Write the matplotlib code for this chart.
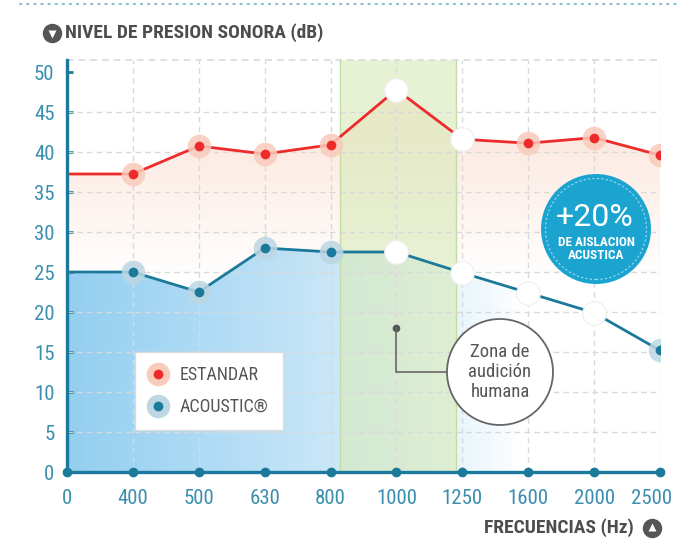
import numpy as np
import matplotlib
matplotlib.use("Agg")
import matplotlib.pyplot as plt
from matplotlib import font_manager
from matplotlib.lines import Line2D
from matplotlib.patches import Circle, Polygon
from matplotlib.transforms import ScaledTranslation
from matplotlib.legend_handler import HandlerTuple

# pick the narrowest sans that is installed
installed = {f.name for f in font_manager.fontManager.ttflist}
narrow = next((n for n in ["Liberation Sans Narrow", "DejaVu Sans Condensed", "Roboto Condensed",
                           "Roboto", "Lato"] if n in installed), "DejaVu Sans")
plt.rcParams["font.family"] = [narrow, "DejaVu Sans"]
plt.rcParams["font.stretch"] = "condensed"

# data
freqs = ["0", "400", "500", "630", "800", "1000", "1250", "1600", "2000", "2500"]
estandar = [37.25, 37.25, 40.75, 39.75, 40.9, 47.8, 41.6, 41.1, 41.8, 39.6]
acoustic = [25.0, 25.0, 22.5, 28.0, 27.5, 27.5, 24.9, 22.4, 19.9, 15.2]
estandar_hidden = [5, 6]          # points drawn as white circles
acoustic_hidden = [5, 6, 7, 8]
yticks = [0, 5, 10, 15, 20, 25, 30, 35, 40, 45, 50]
zona = (4.15, 5.9)                # human hearing band

RED = "#ee2b2b"
RED_HALO = "#f9cbbb"
BLUE = "#1b7a9b"
BLUE_HALO = "#bcd6e3"
TEAL_TXT = "#3b8fae"
GRAY = "#4d4d4d"

W, H = 677, 553
fig = plt.figure(figsize=(W / 100, H / 100), dpi=100)
top_px, bot_px, left_px, right_px = 60, 472, 67, 660
ax = fig.add_axes([left_px / W, 1 - bot_px / H, (right_px - left_px) / W, (bot_px - top_px) / H])
ymax = 51.5
ax.set_xlim(0, 9)
ax.set_ylim(0, ymax)

x = np.arange(len(freqs))

# pink fill under the red line (vertical fade)
grad = np.zeros((200, 2, 4))
ys = np.linspace(ymax, 0, 200)
a = np.clip((ys - 24) / (44 - 24), 0, 1) * 0.6
grad[..., 0], grad[..., 1], grad[..., 2] = 0.98, 0.84, 0.78
grad[..., 3] = a[:, None]
im = ax.imshow(grad, extent=(0, 9, 0, ymax), aspect="auto", zorder=1, interpolation="bilinear")
poly = Polygon([(0, 0)] + list(zip(x, estandar)) + [(9, 0)], closed=True, transform=ax.transData)
im.set_clip_path(poly)

# blue fill under the blue line (horizontal fade)
grad2 = np.zeros((2, 300, 4))
xs = np.linspace(0, 9, 300)
a2 = np.clip(1 - xs / 6.9, 0, 1) ** 0.8 * 0.9
grad2[..., 0], grad2[..., 1], grad2[..., 2] = 0.53, 0.79, 0.94
grad2[..., 3] = a2[None, :]
im2 = ax.imshow(grad2, extent=(0, 9, 0, ymax), aspect="auto", zorder=1.2, interpolation="bilinear")
poly2 = Polygon([(0, 0)] + list(zip(x, acoustic)) + [(9, 0)], closed=True, transform=ax.transData)
im2.set_clip_path(poly2)

# hearing band
ax.axvspan(zona[0], zona[1], facecolor="#d8eab8", alpha=0.6, edgecolor="none", zorder=1.5)
for xv in zona:
    ax.axvline(xv, color="#c3dca2", lw=1, zorder=1.6)

# grid
for yv in yticks[1:-1]:
    ax.axhline(yv, color="#d9d9d9", lw=1, ls=(0, (4, 3)), zorder=2)
ax.axhline(ymax, color="#d9d9d9", lw=1.2, ls=(0, (4, 3)), zorder=2, clip_on=False)
for xv in x[1:]:
    ax.axvline(xv, color="#d9d9d9", lw=1, ls=(0, (4, 3)), zorder=2)

# lines
ax.plot(x, estandar, color=RED, lw=2, zorder=3, solid_capstyle="round")
ax.plot(x, acoustic, color=BLUE, lw=2, zorder=3, solid_capstyle="round")

for vals, col, halo, hidden in [(estandar, RED, RED_HALO, estandar_hidden),
                                (acoustic, BLUE, BLUE_HALO, acoustic_hidden)]:
    for i in range(1, len(x)):
        if i in hidden:
            ax.plot(x[i], vals[i], "o", ms=17, mfc="white", mec="#eeeeee", mew=0.8, zorder=4)
        else:
            ax.plot(x[i], vals[i], "o", ms=17, mfc=halo, mec="none", alpha=0.85, zorder=4)
            ax.plot(x[i], vals[i], "o", ms=7, mfc=col, mec="none", zorder=5)

# bottom axis dots
ax.plot(x, [0] * len(x), "o", ms=6, color=BLUE, zorder=6, clip_on=False)

# spines and ticks
for s in ["top", "right"]:
    ax.spines[s].set_visible(False)
for s in ["left", "bottom"]:
    ax.spines[s].set_color(BLUE)
    ax.spines[s].set_linewidth(2.4)
    ax.spines[s].set_zorder(5.5)
ax.set_xticks(x)
ax.set_xticklabels(freqs)
ax.set_yticks(yticks)
ax.tick_params(axis="y", direction="in", length=4, width=2, color=BLUE, labelcolor=TEAL_TXT,
               labelsize=15, pad=9)
ax.tick_params(axis="x", length=0, labelcolor=TEAL_TXT, labelsize=15, pad=12)
last = ax.get_xticklabels()[-1]
last.set_transform(last.get_transform() + ScaledTranslation(-0.08, 0, fig.dpi_scale_trans))

# annotation
ax.plot(5, 18, "o", ms=4.5, color="#555555", zorder=6)
ax.plot([5, 5, 5.78], [18, 12.5, 12.5], color="#666666", lw=1.2, zorder=6)

px = fig.dpi_scale_trans
def pxy(xp, yp):
    return (xp / 100, (H - yp) / 100)

fig.add_artist(Circle(pxy(500, 372), 0.53, transform=px, facecolor="white",
                      edgecolor="#666666", lw=1.3, zorder=7))
fig.text(500 / W, 1 - 372 / H, "Zona de\naudición\nhumana", ha="center", va="center",
         fontsize=13.5, color="#555555", linespacing=1.15, zorder=8)

# badge
fig.add_artist(Circle(pxy(596, 229), 0.55, transform=px, facecolor="#1ca4d0",
                      edgecolor="none", zorder=7))
fig.add_artist(Circle(pxy(596, 229), 0.505, transform=px, facecolor="none",
                      edgecolor="white", alpha=0.6, lw=0.8, ls=(0, (2, 2)), zorder=8))
fig.text(595 / W, 1 - 217 / H, "+20%", ha="center", va="center", fontsize=23,
         color="white", stretch="normal", family=["Roboto", "DejaVu Sans"], zorder=9)
fig.text(596 / W, 1 - 249 / H, "DE AISLACION\nACUSTICA", ha="center", va="center",
         fontsize=9.5, color="white", fontweight="bold", linespacing=1.05, zorder=9)

# legend
h_est = (Line2D([], [], ls="none", marker="o", ms=17, mfc=RED_HALO, mec="none"),
         Line2D([], [], ls="none", marker="o", ms=7, mfc=RED, mec="none"))
h_aco = (Line2D([], [], ls="none", marker="o", ms=17, mfc=BLUE_HALO, mec="none"),
         Line2D([], [], ls="none", marker="o", ms=7, mfc=BLUE, mec="none"))
leg = ax.legend([h_est, h_aco], ["ESTANDAR", "ACOUSTIC®"],
                handler_map={tuple: HandlerTuple(ndivide=1)},
                loc="upper left", bbox_to_anchor=(135 / W, 1 - 352 / H),
                bbox_transform=fig.transFigure, borderaxespad=0, fancybox=False,
                framealpha=1, edgecolor="#dddddd", fontsize=13, labelcolor="#555555",
                handlelength=0.9, handletextpad=0.75, borderpad=0.8, labelspacing=0.75)
leg.get_frame().set_linewidth(1)
leg.set_zorder(7)

# titles with round icons
fig.text(65 / W, 1 - 33 / H, "NIVEL DE PRESION SONORA (dB)", ha="left", va="center",
         fontsize=14, fontweight="bold", color=GRAY)
fig.text(634 / W, 1 - 528 / H, "FRECUENCIAS (Hz)", ha="right", va="center",
         fontsize=14, fontweight="bold", color=GRAY)
fig.add_artist(Line2D([52 / W], [1 - 33 / H], transform=fig.transFigure, marker="o",
                      ms=14, mfc="#555555", mec="none"))
fig.add_artist(Line2D([52 / W], [1 - 34 / H], transform=fig.transFigure, marker="v",
                      ms=6, mfc="white", mec="none"))
fig.add_artist(Line2D([652 / W], [1 - 528 / H], transform=fig.transFigure, marker="o",
                      ms=14, mfc="#555555", mec="none"))
fig.add_artist(Line2D([652 / W], [1 - 527 / H], transform=fig.transFigure, marker="^",
                      ms=6, mfc="white", mec="none"))

# dotted rule at top
fig.add_artist(Line2D([20 / W, 1], [1 - 4 / H, 1 - 4 / H], transform=fig.transFigure,
                      color="#8ec2da", lw=1.6, ls=(0, (0.6, 2.6)), dash_capstyle="round"))

fig.savefig("out.png", dpi=100)
